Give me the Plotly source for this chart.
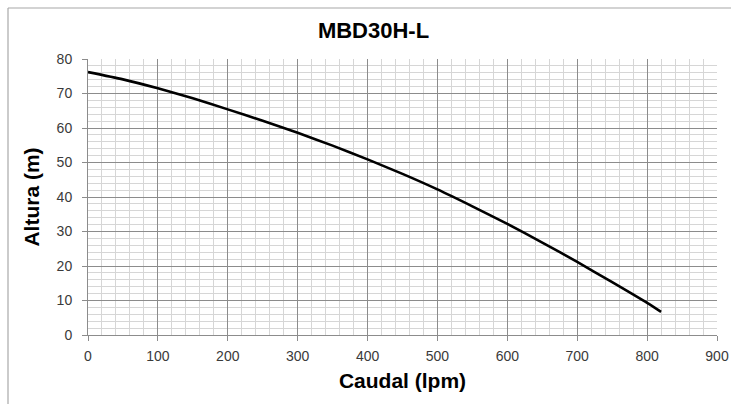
import plotly.graph_objects as go

caudal = [0, 50, 100, 150, 200, 250, 300, 350, 400, 450, 500, 550, 600, 650, 700, 750, 800, 820]
altura = [76.2, 74.1, 71.5, 68.6, 65.4, 62.1, 58.6, 54.9, 50.9, 46.7, 42.2, 37.3, 32.2, 26.8, 21.2, 15.3, 9.3, 6.7]

x_ticks = [0, 100, 200, 300, 400, 500, 600, 700, 800, 900]
y_ticks = [0, 10, 20, 30, 40, 50, 60, 70, 80]

W, H = 731, 404
L, R, T, B = 88, 14, 59, 69
PW, PH = W - L - R, H - T - B

fig = go.Figure()
fig.add_trace(go.Scatter(
    x=caudal, y=altura, mode="lines",
    line=dict(color="black", width=2.6, shape="spline", smoothing=0.6),
    showlegend=False, hoverinfo="skip", cliponaxis=False,
))

tick_font = dict(family="Liberation Sans, Arial, sans-serif", size=14, color="#3a3a3a")
title_font = dict(family="Liberation Sans, Arial, sans-serif", size=21, color="black")

fig.update_layout(
    width=W, height=H,
    margin=dict(l=L, r=R, t=T, b=B, autoexpand=False),
    paper_bgcolor="white", plot_bgcolor="white",
    title=dict(text="<b>MBD30H-L</b>", x=373.5 / W, xref="container", xanchor="center",
               y=1 - 30 / H, yref="container", yanchor="middle", automargin=False,
               font=dict(family="Liberation Sans, Arial, sans-serif", size=22, color="black")),
    xaxis=dict(
        range=[0, 900], tickvals=x_ticks, ticktext=[str(v) for v in x_ticks],
        showgrid=True, gridcolor="#8c8c8c", gridwidth=1,
        minor=dict(dtick=20, tick0=0, showgrid=True, gridcolor="#d6d6d6", gridwidth=1.2, ticks=""),
        ticks="outside", ticklen=5, tickcolor="#8c8c8c",
        showline=True, linecolor="#8c8c8c", linewidth=1, zeroline=False,
        tickfont=tick_font, ticklabelstandoff=3, automargin=False,
        title=dict(text="<b>Caudal (lpm)</b>", font=title_font, standoff=10),
    ),
    yaxis=dict(
        range=[0, 80], tickvals=y_ticks, ticktext=[str(v) for v in y_ticks],
        showgrid=True, gridcolor="#8c8c8c", gridwidth=1,
        minor=dict(dtick=2, tick0=0, showgrid=True, gridcolor="#d6d6d6", gridwidth=1.2, ticks=""),
        ticks="outside", ticklen=5, tickcolor="#8c8c8c",
        showline=True, linecolor="#8c8c8c", linewidth=1, zeroline=False,
        tickfont=tick_font, ticklabelstandoff=7, automargin=False,
        title=dict(text="<b>Altura (m)</b>", font=title_font, standoff=11),
    ),
    shapes=[
        dict(type="line", xref="paper", yref="paper", x0=(8 - L) / PW, x1=(8 - L) / PW,
             y0=-0.5, y1=1 + (T - 8) / PH, line=dict(color="#a8a8a8", width=1.2)),
        dict(type="line", xref="paper", yref="paper", x0=(8 - L) / PW, x1=1.5,
             y0=1 + (T - 8) / PH, y1=1 + (T - 8) / PH, line=dict(color="#a8a8a8", width=1.2)),
    ],
)

fig.write_html(
    "out.html",
    config={"displayModeBar": False},
    post_script="document.body.style.margin='0';document.body.style.overflow='hidden';",
)
